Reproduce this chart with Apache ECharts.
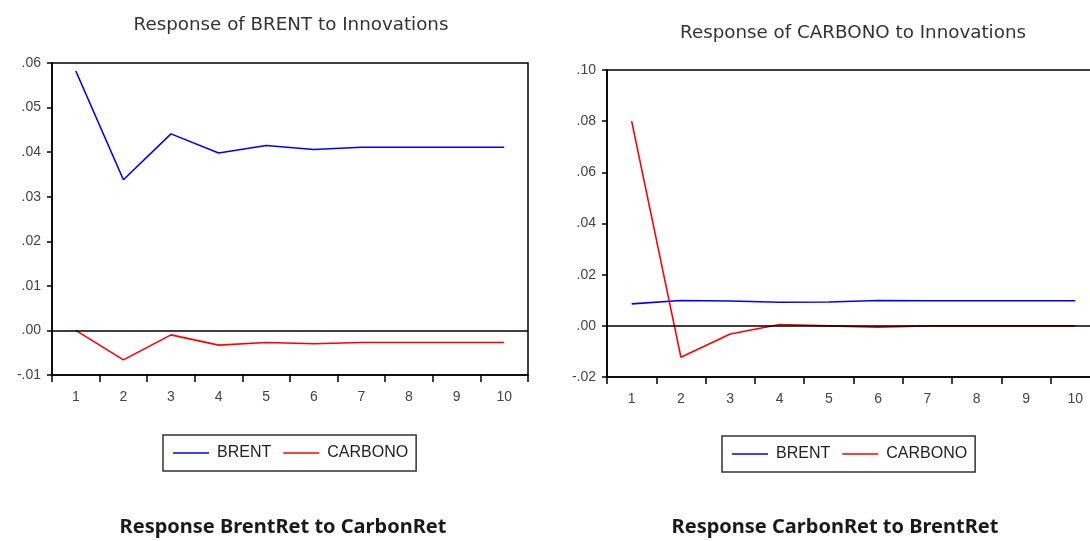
<!DOCTYPE html>
<html>
<head>
<meta charset="utf-8">
<script src="https://cdn.jsdelivr.net/npm/echarts@6/dist/echarts.min.js"></script>
<style>
html,body{margin:0;padding:0;background:#fff;overflow:hidden;}
#c{width:1110px;height:541px;}
</style>
</head>
<body>
<div id="c"></div>
<script>
const periods = ['1','2','3','4','5','6','7','8','9','10'];
const brentToBrent   = [0.0582, 0.0338, 0.0441, 0.0398, 0.0415, 0.0406, 0.0411, 0.0411, 0.0411, 0.0411];
const brentToCarbono = [0.0000, -0.0066, -0.0010, -0.0033, -0.0027, -0.0030, -0.0027, -0.0027, -0.0027, -0.0027];
const carbonoToBrent   = [0.0086, 0.0099, 0.0097, 0.0092, 0.0093, 0.0099, 0.0098, 0.0098, 0.0098, 0.0098];
const carbonoToCarbono = [0.0800, -0.0123, -0.0032, 0.0005, 0.0000, -0.0005, 0.0000, 0.0000, 0.0000, 0.0000];
const seriesNames = ['BRENT', 'CARBONO'];
const titles = ['Response of BRENT to Innovations', 'Response of CARBONO to Innovations'];
const captions = ['Response BrentRet to CarbonRet', 'Response CarbonRet to BrentRet'];

const fmt = v => v.toFixed(2).replace('0.', '.');
const axisFont = {fontFamily: 'Liberation Sans', fontSize: 14, color: '#444'};

function xAx(i){
  return {
    type: 'category', gridIndex: i, data: periods, boundaryGap: true,
    axisLine: {show: true, onZero: false, lineStyle: {color: '#000', width: 1.5}},
    axisTick: {show: true, alignWithLabel: false, interval: 0, length: 7, lineStyle: {color: '#000', width: 1.5}},
    axisLabel: Object.assign({margin: 15, interval: 0}, axisFont),
    splitLine: {show: false}
  };
}
function yAx(i, min, max, step){
  return {
    type: 'value', gridIndex: i, min: min, max: max, interval: step,
    axisLine: {show: true, lineStyle: {color: '#000', width: 1.5}},
    axisTick: {show: true, length: 5, lineStyle: {color: '#000', width: 1.5}},
    axisLabel: Object.assign({margin: 11, formatter: fmt}, axisFont),
    splitLine: {show: false}
  };
}
function ser(name, data, color, i, zero){
  const s = {
    name: name, type: 'line', xAxisIndex: i, yAxisIndex: i, data: data,
    symbol: 'none', lineStyle: {color: color, width: 1.6}, itemStyle: {color: color},
    animation: false
  };
  if (zero) {
    s.markLine = {silent: true, symbol: 'none', label: {show: false},
      lineStyle: {color: '#000', type: 'solid', width: 1.5},
      data: [{yAxis: 0}], animation: false};
  }
  return s;
}
const legendBase = {
  data: seriesNames, orient: 'horizontal', icon: 'rect', itemWidth: 36, itemHeight: 1.5,
  itemGap: 12, borderColor: '#333', borderWidth: 1.5, padding: [10, 8, 10, 10],
  textStyle: {fontFamily: 'Liberation Sans', fontSize: 16, color: '#222', padding: [0, 0, 0, 3]}
};
const titleFont = {fontFamily: 'DejaVu Sans', fontSize: 18.3, fontWeight: 'normal', color: '#333'};
const capFont = {fontFamily: 'Noto Sans', fontSize: 20, fontWeight: 'bold', color: '#1a1a1a'};

const chart = echarts.init(document.getElementById('c'), null, {renderer: 'canvas'});
chart.setOption({
  animation: false,
  backgroundColor: '#fff',
  title: [
    {text: titles[0], left: 291, top: 16, textAlign: 'center', padding: 0, textStyle: titleFont},
    {text: titles[1], left: 853, top: 24, textAlign: 'center', padding: 0, textStyle: titleFont},
    {text: captions[0], left: 283, top: 517, textAlign: 'center', padding: 0, textStyle: capFont},
    {text: captions[1], left: 835, top: 517, textAlign: 'center', padding: 0, textStyle: capFont}
  ],
  legend: [
    Object.assign({left: 163, top: 435}, legendBase),
    Object.assign({left: 722, top: 436}, legendBase)
  ],
  grid: [
    {left: 52, width: 476, top: 63, bottom: 166, show: true, borderColor: '#000', borderWidth: 1.5, containLabel: false},
    {left: 607, width: 493, top: 70, bottom: 164, show: true, borderColor: '#000', borderWidth: 1.5, containLabel: false}
  ],
  xAxis: [xAx(0), xAx(1)],
  yAxis: [yAx(0, -0.01, 0.06, 0.01), yAx(1, -0.02, 0.10, 0.02)],
  series: [
    ser(seriesNames[0], brentToBrent, '#0000ff', 0, false),
    ser(seriesNames[1], brentToCarbono, '#ff0000', 0, true),
    ser(seriesNames[0], carbonoToBrent, '#0000ff', 1, false),
    ser(seriesNames[1], carbonoToCarbono, '#ff0000', 1, true)
  ]
});
</script>
</body>
</html>
